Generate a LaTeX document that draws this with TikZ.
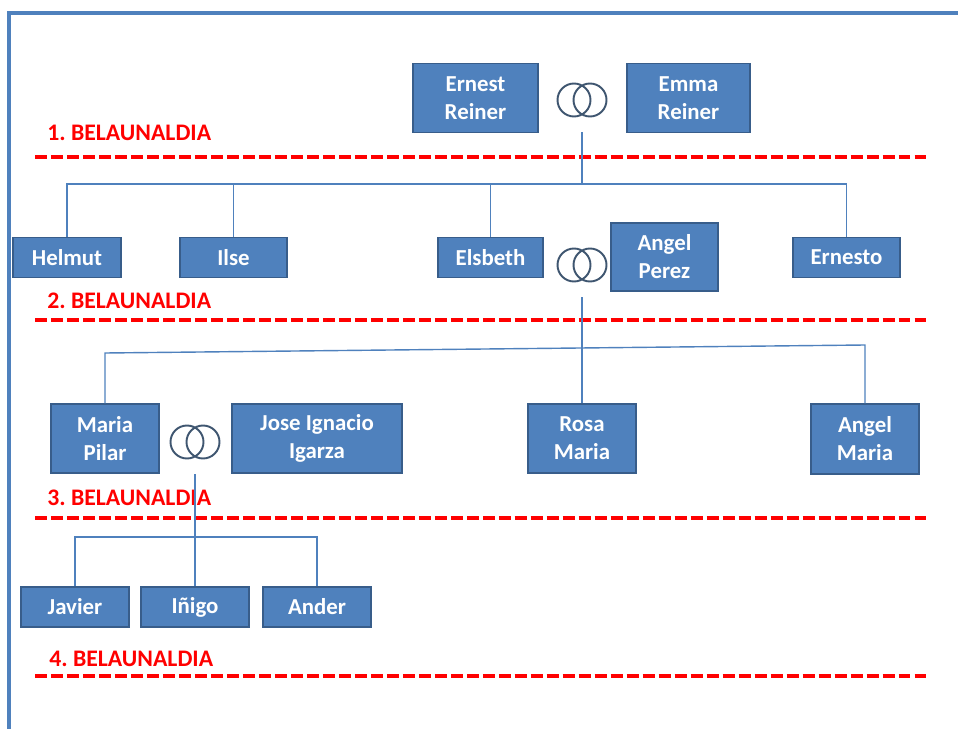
\documentclass[tikz,border=0pt]{standalone}
\usepackage{fontspec}
\setmainfont{Carlito}
\definecolor{GTBoxFill}{HTML}{4F81BD}
\definecolor{GTBoxStroke}{HTML}{385D8A}
\definecolor{GTLine}{HTML}{4F81BD}
\definecolor{GTRing}{HTML}{3F5670}
\definecolor{GTGen}{HTML}{FF0000}

\begin{document}
\begin{tikzpicture}[font=\bfseries\fontsize{13}{16}\selectfont,
  person/.style={draw=GTBoxStroke,fill=GTBoxFill,text=white,line width=0.8pt,align=center,minimum width=21.6mm,minimum height=8mm,inner sep=1pt},
  couple/.style={person,minimum height=13.8mm},
  ring/.style={draw=none,minimum width=9.6mm,minimum height=12.8mm,inner sep=0pt},
  ringline/.style={draw=GTRing,line width=1.1pt},
  tree/.style={draw=GTLine,line width=0.8pt},
  genlabel/.style={text=GTGen,anchor=west,inner sep=0pt,font=\bfseries\fontsize{13.5}{16}\selectfont},
  genline/.style={draw=GTGen,line width=2pt,dash pattern=on 6.8pt off 2.3pt},
  frameline/.style={draw=GTLine,line width=1.8pt}]
  \useasboundingbox (0,0) rectangle (19.16,-14.58);
  \draw[frameline] (19.16,-0.26) -- (0.18,-0.26) -- (0.18,-14.58);

  % 1. belaunaldia
  \node[couple,minimum width=25mm] (ernest) at (9.51,-1.96) {Ernest\\Reiner};
  \node[couple,minimum width=24.6mm] (emma) at (13.77,-1.96) {Emma\\Reiner};
  \node[ring] (r1) at (11.64,-2.0) {};
  \draw[ringline] (r1) ++(-0.16,0) circle (0.33) (r1) ++(0.16,0) circle (0.33);
  \node[genlabel] (g1) at (0.94,-2.66) {1.\ BELAUNALDIA};
  \draw[genline] (0.7,-3.14) -- (18.58,-3.14);

  % 2. belaunaldia
  \node[person] (helmut) at (1.34,-5.15) {Helmut};
  \node[person,minimum width=21.4mm] (ilse) at (4.67,-5.15) {Ilse};
  \node[person,minimum width=21mm] (elsbeth) at (9.81,-5.15) {Elsbeth};
  \node[couple,minimum width=21.4mm,minimum height=13.6mm] (aperez) at (13.29,-5.14) {Angel\\Perez};
  \node[person,minimum width=21.4mm] (ernesto) at (16.93,-5.15) {Ernesto};
  \node[ring] (r2) at (11.64,-5.3) {};
  \draw[ringline] (r2) ++(-0.16,0) circle (0.33) (r2) ++(0.16,0) circle (0.33);
  \coordinate (b1) at (0,-3.68);
  \draw[tree] (helmut.north) |- (ernesto.north |- b1) -- (ernesto.north);
  \draw[tree] (ilse.north) -- (ilse.north |- b1);
  \draw[tree] (elsbeth.north) -- (elsbeth.north |- b1);
  \draw[tree] (r1.south) -- (r1.south |- b1);
  \node[genlabel] (g2) at (0.94,-6.02) {2.\ BELAUNALDIA};
  \draw[genline] (0.7,-6.4) -- (18.58,-6.4);

  % 3. belaunaldia
  \node[couple] (mpilar) at (2.1,-8.77) {Maria\\Pilar};
  \node[couple,minimum width=34mm] (jose) at (6.34,-8.77) {Jose Ignacio\\Igarza};
  \node[couple] (rosa) at (11.64,-8.77) {Rosa\\Maria};
  \node[couple,minimum height=14mm] (amaria) at (17.3,-8.78) {Angel\\Maria};
  \node[ring] (r3) at (3.9,-8.84) {};
  \draw[ringline] (r3) ++(-0.16,0) circle (0.33) (r3) ++(0.16,0) circle (0.33);
  \coordinate (b2l) at (2.1,-7.06);
  \coordinate (b2r) at (17.3,-6.9);
  \draw[tree] (mpilar.north) -- (b2l) -- (b2r) -- (amaria.north);
  \draw[tree] (r2.south) -- (rosa.north);
  \node[genlabel] (g3) at (0.94,-9.96) {3.\ BELAUNALDIA};
  \draw[genline] (0.7,-10.36) -- (18.58,-10.36);

  % 4. belaunaldia
  \node[person] (javier) at (1.5,-12.14) {Javier};
  \node[person] (inigo) at (3.9,-12.14) {Iñigo};
  \node[person] (ander) at (6.34,-12.14) {Ander};
  \coordinate (b3) at (0,-10.74);
  \draw[tree] (javier.north) |- (ander.north |- b3) -- (ander.north);
  \draw[tree] (r3.south) -- (inigo.north);
  \node[genlabel] (g4) at (0.98,-13.18) {4.\ BELAUNALDIA};
  \draw[genline] (0.7,-13.52) -- (18.58,-13.52);
\end{tikzpicture}
\end{document}
